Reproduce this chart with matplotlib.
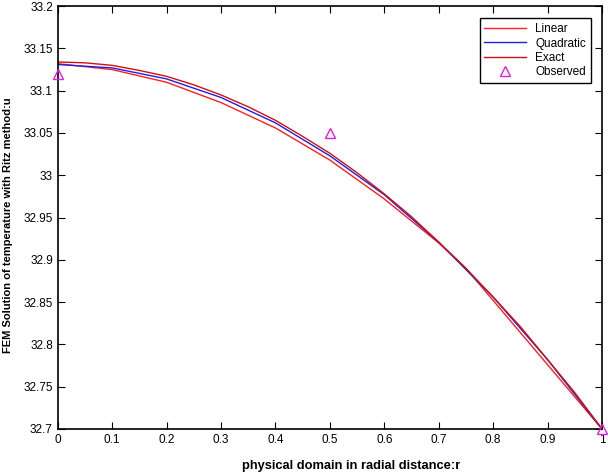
import numpy as np
import matplotlib.pyplot as plt
from matplotlib.ticker import FuncFormatter

plt.rcParams['font.family'] = ['Liberation Sans', 'DejaVu Sans']

# Exact solution
r_exact = [0.0, 0.05, 0.1, 0.15, 0.2, 0.25, 0.3, 0.35, 0.4, 0.45, 0.5,
           0.55, 0.6, 0.65, 0.7, 0.75, 0.8, 0.85, 0.9, 0.95, 1.0]
u_exact = [33.134, 33.133, 33.130, 33.124, 33.117, 33.107, 33.095, 33.081,
           33.065, 33.046, 33.026, 33.003, 32.978, 32.951, 32.921, 32.890,
           32.856, 32.821, 32.782, 32.743, 32.700]

# Quadratic elements
r_quad = [0.0, 0.1, 0.2, 0.3, 0.4, 0.5, 0.6, 0.7, 0.8, 0.9, 1.0]
u_quad = [33.131, 33.127, 33.114, 33.092, 33.062, 33.023, 32.977, 32.921,
          32.856, 32.782, 32.700]

# Linear elements
r_lin = [0.0, 0.1, 0.2, 0.3, 0.4, 0.5, 0.6, 0.7, 0.75, 1.0]
u_lin = [33.132, 33.125, 33.110, 33.086, 33.056, 33.018, 32.972, 32.920,
         32.890, 32.700]

# Observed data
r_obs = [0.0, 0.5, 1.0]
u_obs = [33.12, 33.05, 32.70]

fig = plt.figure(figsize=(6.08, 4.76), dpi=100)
ax = fig.add_axes([0.095, 0.099, 0.895, 0.888])

ax.plot(r_lin, u_lin, color='#ff2020', lw=1.0, label='Linear')
ax.plot(r_quad, u_quad, color='#2020e0', lw=1.0, label='Quadratic')
ax.plot(r_exact, u_exact, color='#d01010', lw=1.0, label='Exact')
ax.plot(r_obs, u_obs, '^', color='#e020e0', mfc='none', ms=7, mew=1.0,
        ls='none', label='Observed', clip_on=False, zorder=5)

ax.set_xlim(0, 1)
ax.set_ylim(32.7, 33.2)
ax.set_xticks(np.arange(0, 1.01, 0.1))
ax.set_yticks(np.arange(32.7, 33.201, 0.05))
fmt = FuncFormatter(lambda v, p: ('%.2f' % v).rstrip('0').rstrip('.'))
ax.xaxis.set_major_formatter(fmt)
ax.yaxis.set_major_formatter(fmt)
ax.tick_params(direction='in', top=True, right=True, length=5, labelsize=8.5)
for s in ax.spines.values():
    s.set_linewidth(1.2)

ax.set_xlabel('physical domain in radial distance:r', fontsize=9.3,
              fontweight='bold')
ax.xaxis.set_label_coords(0.539, -0.074)
ax.set_ylabel('FEM Solution of temperature with Ritz method:u', fontsize=8,
              fontweight='bold')
ax.yaxis.set_label_coords(-0.082, 0.482)

leg = ax.legend(loc='upper right', bbox_to_anchor=(0.99, 0.985), fontsize=8.5,
                fancybox=False, framealpha=1, edgecolor='black',
                handlelength=3.5, borderpad=0.4, labelspacing=0.2)
leg.get_frame().set_linewidth(1.0)

fig.savefig('out.png', dpi=100)
